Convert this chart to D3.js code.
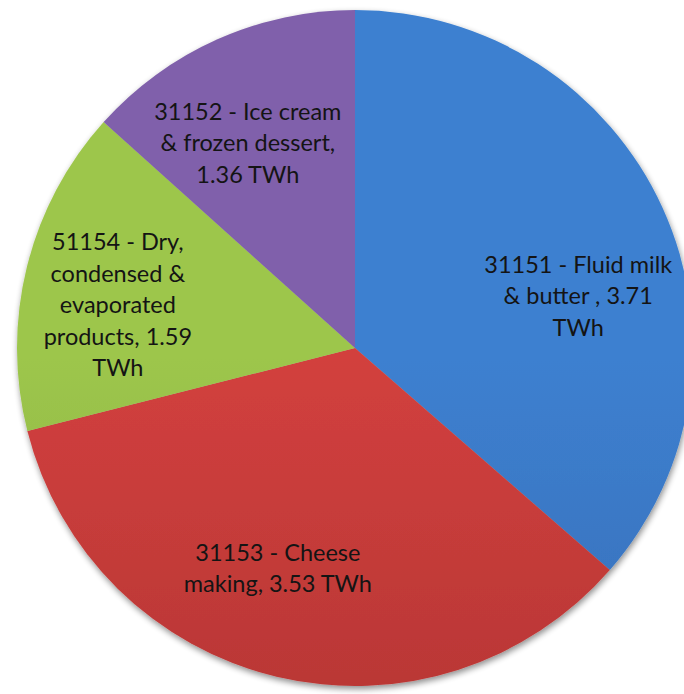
<!DOCTYPE html>
<html><head><meta charset="utf-8">
<script src="https://cdn.jsdelivr.net/npm/d3@7"></script>
<style>body{margin:0;background:#fff}svg{display:block}</style>
</head><body>
<script>
const categories = ["31151 - Fluid milk & butter", "31153 - Cheese making", "51154 - Dry, condensed & evaporated products", "31152 - Ice cream & frozen dessert"];
const values = [3.71, 3.53, 1.59, 1.36];
const labelLines = [
  ["31151 - Fluid milk", "& butter , 3.71", "TWh"],
  ["31153 - Cheese", "making, 3.53 TWh"],
  ["51154 - Dry,", "condensed &", "evaporated", "products, 1.59", "TWh"],
  ["31152 - Ice cream", "& frozen dessert,", "1.36 TWh"]
];
const topColors = ["#3d80d0", "#d2403e", "#9dc64c", "#8061ab"];
const botColors = ["#3261a5", "#a12e2d", "#76963a", "#62488a"];

const W = 684, H = 694, cx = 355, cy = 348, R = 338;
const svg = d3.select("body").append("svg").attr("width", W).attr("height", H);
const defs = svg.append("defs");
const f = defs.append("filter").attr("id","sh").attr("x","-10%").attr("y","-10%").attr("width","120%").attr("height","120%");
f.append("feGaussianBlur").attr("in","SourceAlpha").attr("stdDeviation",3).attr("result","b");
f.append("feOffset").attr("in","b").attr("dx",1).attr("dy",3).attr("result","o");
f.append("feComponentTransfer").attr("in","o").attr("result","o2").append("feFuncA").attr("type","linear").attr("slope",0.45);
const m = f.append("feMerge"); m.append("feMergeNode").attr("in","o2"); m.append("feMergeNode").attr("in","SourceGraphic");

categories.forEach((c,i)=>{
  const g = defs.append("linearGradient").attr("id","g"+i).attr("gradientUnits","userSpaceOnUse")
    .attr("x1",0).attr("y1",cy-R).attr("x2",0).attr("y2",cy+R);
  g.append("stop").attr("offset","0%").attr("stop-color",topColors[i]);
  g.append("stop").attr("offset","100%").attr("stop-color",botColors[i]);
});

const pie = d3.pie().sort(null).value(d=>d)(values);
const arc = d3.arc().innerRadius(0).outerRadius(R);
const root = svg.append("g").attr("transform",`translate(${cx},${cy})`);
root.append("g").attr("filter","url(#sh)").selectAll("path").data(pie).join("path")
  .attr("d",arc).attr("fill",(d,i)=>`url(#g${i})`);

// label placement: fraction of radius and angular nudge (degrees) from slice mid-angle
const labelR = [0.678, 0.69, 0.713, 0.684];
const labelShift = [11.4, 5.9, -3.6, -3.6];
const lh = 31.5;
pie.forEach((d,i)=>{
  const a = (d.startAngle+d.endAngle)/2 + labelShift[i]*Math.PI/180;
  const r = R*labelR[i];
  const x = Math.sin(a)*r, y = -Math.cos(a)*r;
  const lines = labelLines[i];
  const t = root.append("text").attr("text-anchor","middle")
    .attr("font-family","Lato, 'Open Sans', sans-serif").attr("font-size",23.5).attr("fill","#141414");
  lines.forEach((l,k)=>{
    t.append("tspan").attr("x",x).attr("y",y+(k-(lines.length-1)/2)*lh).attr("dy","0.35em").text(l);
  });
});
</script>
</body></html>
